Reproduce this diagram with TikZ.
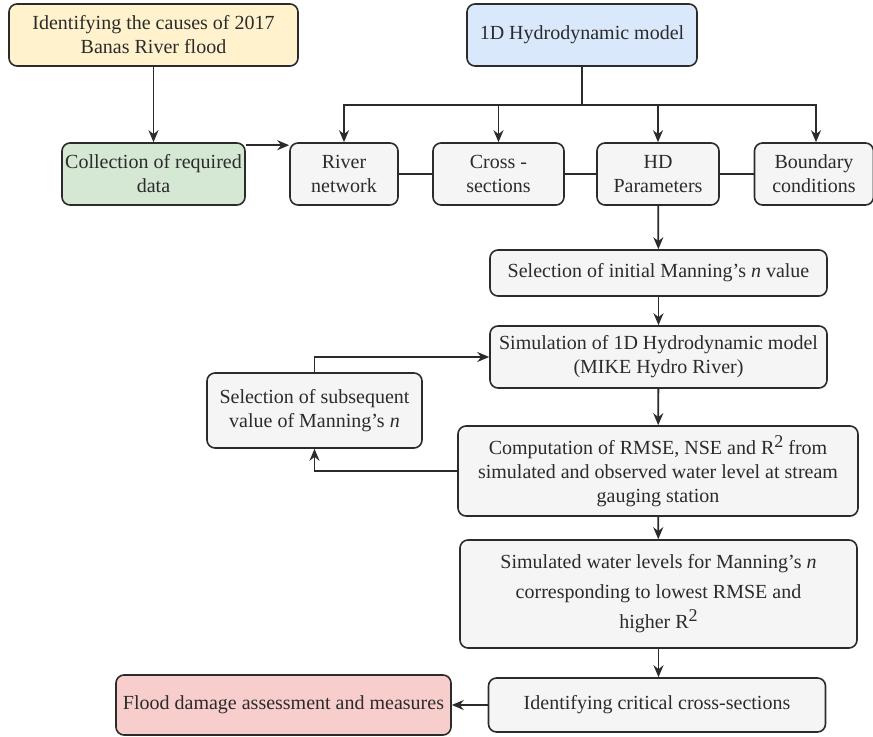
\documentclass[tikz,border=0pt]{standalone}
\usepackage{fontspec}
\setmainfont{Liberation Serif}
\usepackage{xcolor}
\usepackage{tikz}
\usetikzlibrary{arrows.meta,positioning,calc}

\definecolor{cyel}{HTML}{FFF2CC}
\definecolor{cblu}{HTML}{DAE8FC}
\definecolor{cgrn}{HTML}{D5E8D4}
\definecolor{cred}{HTML}{F8CECC}
\definecolor{cgry}{HTML}{F5F5F5}
\definecolor{ctxt}{HTML}{2B2B2B}
\newcommand{\sqd}{\raisebox{0.75ex}{\small 2}}

\begin{document}
\begin{tikzpicture}[
            x=0.5pt, y=-0.5pt,
            every node/.style={font=\fontsize{10pt}{12pt}\selectfont, text=ctxt},
            nd/.style={draw=ctxt, line width=0.8pt, rounded corners=4pt, align=center, inner sep=0pt, fill=cgry},
            ar/.style={-{Stealth[length=6pt,width=5pt]}, line width=0.9pt, draw=ctxt},
            ln/.style={line width=0.9pt, draw=ctxt},
        ]
            \useasboundingbox (0,0) rectangle (873,737);
            % top row
            \node[nd, fill=cyel, minimum width=144.5pt, minimum height=31pt] (cause) at (153.5,35) {Identifying the causes of 2017\\Banas River flood};
            \node[nd, fill=cblu, minimum width=115pt, minimum height=31pt] (hdm) at (582,35) {1D Hydrodynamic model};
            % data row
            \node[nd, fill=cgrn, minimum width=91.5pt, minimum height=31pt] (data) at (153.5,174) {Collection of required\\data};
            \node[nd, minimum width=54pt, minimum height=31pt] (river) at (344,174) {River\\network};
            \node[nd, minimum width=65.5pt, minimum height=31pt] (cross) at (498.5,174) {Cross -\\sections};
            \node[nd, minimum width=61pt, minimum height=31pt] (hdp) at (658,174) {HD\\Parameters};
            \node[nd, minimum width=59.5pt, minimum height=31pt] (bound) at (814,174) {Boundary\\conditions};
            % calibration loop
            \node[nd, minimum width=168.5pt, minimum height=23pt] (init) at (658.5,273) {Selection of initial Manning’s \textit{n} value};
            \node[nd, minimum width=168.5pt, minimum height=31pt] (sim) at (658.5,357) {Simulation of 1D Hydrodynamic model\\(MIKE Hydro River)};
            \node[nd, minimum width=107.5pt, minimum height=37.5pt] (subs) at (314.5,410.5) {Selection of subsequent\\value of Manning’s \textit{n}};
            \node[nd, minimum width=200pt, minimum height=45pt] (comp) at (658,471) {Computation of RMSE, NSE and R\sqd{} from\\simulated and observed water level at stream\\gauging station};
            \node[nd, minimum width=198.5pt, minimum height=54pt] (simw) at (658.5,594) {Simulated water levels for Manning’s \textit{n}\\[3pt]corresponding to lowest RMSE and\\[3pt]higher R\sqd};
            % output
            \node[nd, minimum width=168.5pt, minimum height=27pt] (crit) at (657,705) {Identifying critical cross-sections};
            \node[nd, fill=cred, minimum width=167.5pt, minimum height=30pt] (flood) at (283.5,705) {Flood damage assessment and measures};

            \coordinate (bus) at (582,105);
            \draw[ar] (cause) -- (data);
            \draw[ar] ([yshift=-1.5pt]data.north east) -- ([yshift=-1.5pt]data.north east -| river.west);
            \draw[ln] (hdm) -- (bus);
            \draw[ar] (bus) -| (river.north);
            \draw[ar] (bus) -| (cross.north);
            \draw[ar] (bus) -| (hdp.north);
            \draw[ar] (bus) -| ([xshift=1pt]bound.north);
            \draw[ln] (river) -- (cross);
            \draw[ln] (cross) -- (hdp);
            \draw[ln] (hdp) -- (bound);
            \draw[ar] (hdp) -- (init);
            \draw[ar] (init) -- (sim);
            \draw[ar] (sim) -- (comp);
            \draw[ar] (comp) -- (simw);
            \draw[ar] (simw) -- (simw |- crit.north);
            \draw[ar] (crit) -- (flood);
            \draw[ar] (subs.north) |- (sim.west);
            \draw[ar] (comp.west) -| (subs.south);
        \end{tikzpicture}
\end{document}
